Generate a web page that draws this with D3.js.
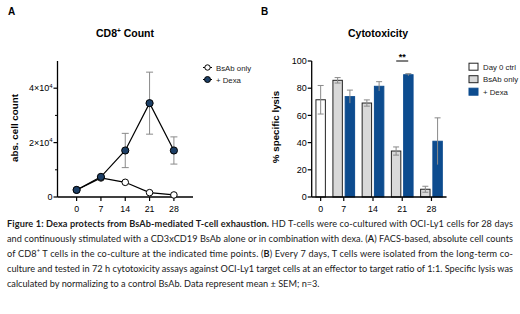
<!DOCTYPE html>
<html><head><meta charset="utf-8">
<script src="https://cdn.jsdelivr.net/npm/d3@7/dist/d3.min.js"></script>
<style>
html,body{margin:0;padding:0;background:#fff;}
</style></head>
<body><svg id="chart" width="520" height="314"></svg>
<script>
// Panel A data
const daysA = [0, 7, 14, 21, 28];
const bsabCount = [2600, 7000, 5400, 1600, 750];
const dexaCount = [2600, 7400, 17100, 34500, 17100];
const dexaCountErr = [0, 0, 6300, 11400, 5000];
const yTicksA = [0, 20000, 40000];
const yMinorA = [10000, 30000];
const legendA = ["BsAb only", "+ Dexa"];

// Panel B data
const daysB = [0, 7, 14, 21, 28];
const day0Ctrl = [71.5];
const day0CtrlErr = [10.5];
const bsabLysis = [85.8, 69.1, 33.8, 5.7];   // days 7..28
const bsabLysisErr = [2.0, 2.3, 3.0, 2.2];
const dexaLysis = [73.8, 81.4, 89.9, 41.0];
const dexaLysisErr = [4.8, 3.4, 0.8, 17.2];
const yTicksB = [0, 20, 40, 60, 80, 100];
const legendB = ["Day 0 ctrl", "BsAb only", "+ Dexa"];

// caption: each line is a list of [text, style] runs (b = bold, s = superscript)
const captionLines = [
  [["Figure 1: Dexa protects from BsAb-mediated T-cell exhaustion.", "b"], [" HD T-cells were co-cultured with OCI-Ly1 cells for 28 days", ""]],
  [["and continuously stimulated with a CD3xCD19 BsAb alone or in combination with dexa. (", ""], ["A", "b"], [") FACS-based, absolute cell counts", ""]],
  [["of CD8", ""], ["+", "s"], [" T cells in the co-culture at the indicated time points. (", ""], ["B", "b"], [") Every 7 days, T cells were isolated from the long-term co-", ""]],
  [["culture and tested in 72 h cytotoxicity assays against OCI-Ly1 target cells at an effector to target ratio of 1:1. Specific lysis was", ""]],
  [["calculated by normalizing to a control BsAb. Data represent mean ± SEM; n=3.", ""]]
];
const captionJustify = [true, true, true, true, false];

const svg = d3.select("#chart");
const F = "'Liberation Sans', Arial, sans-serif";
const navy = "#1d3f66", blue = "#0d4c8f", gray = "#d9d9d9", errC = "#8a8a8a";

// ---------- Panel A ----------
const xA = d3.scaleLinear().domain([-5.5, 33.5]).range([57.5, 193]);
const yA = d3.scaleLinear().domain([0, 50000]).range([197, 61]);
const gA = svg.append("g");
gA.append("text").attr("x", 8).attr("y", 15).text("A").attr("font-family", F).attr("font-weight", "bold").attr("font-size", 10);
const tA = gA.append("text").attr("x", 125).attr("y", 37).attr("text-anchor", "middle").attr("font-family", F).attr("font-weight", "bold").attr("font-size", 10.5);
tA.append("tspan").text("CD8");
tA.append("tspan").text("+").attr("font-size", 6.5).attr("dy", -4);
tA.append("tspan").text(" Count").attr("dy", 4);

gA.append("line").attr("x1", xA.range()[0]).attr("x2", xA.range()[0]).attr("y1", yA(50000)).attr("y2", yA(0)).attr("stroke", "#000").attr("stroke-width", 1.3);
gA.append("line").attr("x1", xA.range()[0]).attr("x2", xA.range()[1]).attr("y1", yA(0)).attr("y2", yA(0)).attr("stroke", "#000").attr("stroke-width", 1.3);
yTicksA.forEach(v => {
  gA.append("line").attr("x1", xA.range()[0] - 4).attr("x2", xA.range()[0]).attr("y1", yA(v)).attr("y2", yA(v)).attr("stroke", "#000").attr("stroke-width", 1.2);
  const t = gA.append("text").attr("x", xA.range()[0] - 5).attr("y", yA(v) + 3.2).attr("text-anchor", "end").attr("font-family", F).attr("font-size", 9);
  if (v === 0) t.text("0");
  else {
    t.append("tspan").text((v / 10000) + "×10");
    t.append("tspan").text("4").attr("font-size", 6).attr("dy", -3.5);
  }
});
yMinorA.forEach(v => {
  gA.append("line").attr("x1", xA.range()[0] - 2.5).attr("x2", xA.range()[0]).attr("y1", yA(v)).attr("y2", yA(v)).attr("stroke", "#000").attr("stroke-width", 1);
});
daysA.forEach(d => {
  gA.append("line").attr("x1", xA(d)).attr("x2", xA(d)).attr("y1", yA(0)).attr("y2", yA(0) + 4).attr("stroke", "#000").attr("stroke-width", 1.2);
  gA.append("text").attr("x", xA(d)).attr("y", 212).attr("text-anchor", "middle").attr("font-family", F).attr("font-size", 8.8).text(d);
});
gA.append("text").attr("transform", `translate(17.5,128) rotate(-90)`).attr("text-anchor", "middle").attr("font-family", F).attr("font-weight", "bold").attr("font-size", 9.8).text("abs. cell count");

daysA.forEach((d, i) => {
  const e = dexaCountErr[i];
  if (!e) return;
  const x = xA(d);
  gA.append("line").attr("x1", x).attr("x2", x).attr("y1", yA(dexaCount[i] + e)).attr("y2", yA(dexaCount[i] - e)).attr("stroke", errC).attr("stroke-width", 1);
  [dexaCount[i] + e, dexaCount[i] - e].forEach(v => gA.append("line").attr("x1", x - 3.5).attr("x2", x + 3.5).attr("y1", yA(v)).attr("y2", yA(v)).attr("stroke", errC).attr("stroke-width", 1));
});
const lineA = d3.line().x((d, i) => xA(daysA[i])).y(d => yA(d));
gA.append("path").attr("d", lineA(bsabCount)).attr("fill", "none").attr("stroke", "#000").attr("stroke-width", 1.2);
gA.append("path").attr("d", lineA(dexaCount)).attr("fill", "none").attr("stroke", "#000").attr("stroke-width", 1.2);
bsabCount.forEach((v, i) => gA.append("circle").attr("cx", xA(daysA[i])).attr("cy", yA(v)).attr("r", 3.3).attr("fill", "#fff").attr("stroke", "#000").attr("stroke-width", 1));
dexaCount.forEach((v, i) => gA.append("circle").attr("cx", xA(daysA[i])).attr("cy", yA(v)).attr("r", 3.6).attr("fill", navy).attr("stroke", "#000").attr("stroke-width", 1));

legendA.forEach((name, i) => {
  const y = 67.5 + i * 12;
  gA.append("line").attr("x1", 203).attr("x2", 212).attr("y1", y).attr("y2", y).attr("stroke", "#000").attr("stroke-width", 1);
  gA.append("circle").attr("cx", 207.5).attr("cy", y).attr("r", i ? 3 : 2.7).attr("fill", i ? navy : "#fff").attr("stroke", "#000").attr("stroke-width", 1);
  gA.append("text").attr("x", 216).attr("y", y + 3).attr("font-family", F).attr("font-size", 7.8).attr("fill", "#222").text(name);
});

// ---------- Panel B ----------
const gB = svg.append("g");
gB.append("text").attr("x", 261).attr("y", 15).text("B").attr("font-family", F).attr("font-weight", "bold").attr("font-size", 10);
gB.append("text").attr("x", 378).attr("y", 37).attr("text-anchor", "middle").attr("font-family", F).attr("font-weight", "bold").attr("font-size", 10.5).text("Cytotoxicity");

const bars = [];
let pos = 0.45;
const BW = 1, IG = 0.3, GG = 0.8;
const groupCenters = [];
daysB.forEach((d, gi) => {
  const start = pos;
  if (gi === 0) {
    bars.push({ s: "ctrl", x: pos, v: day0Ctrl[0], e: day0CtrlErr[0] });
    pos += BW;
  } else {
    bars.push({ s: "bsab", x: pos, v: bsabLysis[gi - 1], e: bsabLysisErr[gi - 1] });
    pos += BW + IG;
    bars.push({ s: "dexa", x: pos, v: dexaLysis[gi - 1], e: dexaLysisErr[gi - 1] });
    pos += BW;
  }
  groupCenters.push((start + pos) / 2);
  pos += GG;
});
const totalU = pos - GG + 0.45;
const xB = d3.scaleLinear().domain([0, totalU]).range([311.7, 311.7 + totalU * 9.43]);
const yB = d3.scaleLinear().domain([0, 100]).range([197, 61]);
const fillOf = { ctrl: "#fff", bsab: gray, dexa: blue };

bars.forEach(b => {
  gB.append("rect").attr("x", xB(b.x)).attr("y", yB(b.v)).attr("width", xB(b.x + BW) - xB(b.x)).attr("height", yB(0) - yB(b.v))
    .attr("fill", fillOf[b.s]).attr("stroke", b.s === "dexa" ? blue : "#222").attr("stroke-width", 1);
});
bars.forEach(b => {
  const cx = xB(b.x + BW / 2);
  gB.append("line").attr("x1", cx).attr("x2", cx).attr("y1", yB(b.v + b.e)).attr("y2", yB(b.v - b.e)).attr("stroke", errC).attr("stroke-width", 1);
  gB.append("line").attr("x1", cx - 3).attr("x2", cx + 3).attr("y1", yB(b.v + b.e)).attr("y2", yB(b.v + b.e)).attr("stroke", errC).attr("stroke-width", 1);
  if (b.s !== "dexa") gB.append("line").attr("x1", cx - 3).attr("x2", cx + 3).attr("y1", yB(b.v - b.e)).attr("y2", yB(b.v - b.e)).attr("stroke", errC).attr("stroke-width", 1);
});

gB.append("line").attr("x1", xB(0)).attr("x2", xB(0)).attr("y1", yB(100)).attr("y2", yB(0)).attr("stroke", "#000").attr("stroke-width", 1.3);
gB.append("line").attr("x1", xB(0)).attr("x2", xB(totalU)).attr("y1", yB(0)).attr("y2", yB(0)).attr("stroke", "#000").attr("stroke-width", 1.3);
yTicksB.forEach(v => {
  gB.append("line").attr("x1", xB(0) - 4).attr("x2", xB(0)).attr("y1", yB(v)).attr("y2", yB(v)).attr("stroke", "#000").attr("stroke-width", 1.2);
  gB.append("text").attr("x", xB(0) - 5).attr("y", yB(v) + 3.2).attr("text-anchor", "end").attr("font-family", F).attr("font-size", 9).text(v);
});
daysB.forEach((d, i) => {
  const x = xB(groupCenters[i]);
  gB.append("line").attr("x1", x).attr("x2", x).attr("y1", yB(0)).attr("y2", yB(0) + 4).attr("stroke", "#000").attr("stroke-width", 1.2);
  gB.append("text").attr("x", x).attr("y", 212).attr("text-anchor", "middle").attr("font-family", F).attr("font-size", 8.8).text(d);
});
gB.append("text").attr("transform", `translate(278.5,127) rotate(-90)`).attr("text-anchor", "middle").attr("font-family", F).attr("font-weight", "bold").attr("font-size", 9.8).text("% specific lysis");

const sigX = xB(groupCenters[3]);
gB.append("line").attr("x1", sigX - 6).attr("x2", sigX + 6).attr("y1", 61).attr("y2", 61).attr("stroke", "#000").attr("stroke-width", 1);
gB.append("text").attr("x", sigX).attr("y", 60).attr("text-anchor", "middle").attr("font-family", F).attr("font-weight", "bold").attr("font-size", 9).text("**");

legendB.forEach((name, i) => {
  const y = 66.7 + i * 12.5;
  gB.append("rect").attr("x", 469).attr("y", y - 3.5).attr("width", 9).attr("height", 7).attr("fill", ["#fff", gray, blue][i]).attr("stroke", i === 2 ? blue : "#222").attr("stroke-width", 1);
  gB.append("text").attr("x", 483).attr("y", y + 3).attr("font-family", F).attr("font-size", 7.8).attr("fill", "#222").text(name);
});

// ---------- Caption ----------
const capW = 506, baseSize = 9.4;
const gC = svg.append("g").attr("font-family", "Lato, 'Open Sans', sans-serif").attr("font-size", baseSize).attr("fill", "#1a1a1a");
const capTexts = captionLines.map((runs, i) => {
  const t = gC.append("text").attr("x", 7).attr("y", 226.5 + i * 15.1);
  let afterSup = false;
  runs.forEach(([txt, st]) => {
    const sp = t.append("tspan").text(txt);
    if (st === "b") sp.attr("font-weight", "bold");
    if (st === "s") { sp.attr("font-size", 5.5).attr("dy", -3.5); afterSup = true; }
    else if (afterSup) { sp.attr("dy", 3.5); afterSup = false; }
  });
  return t;
});
// fit font so the widest justified line fits its width, then justify with extra spacing
let k = 1;
capTexts.forEach((t, i) => { if (captionJustify[i]) k = Math.min(k, capW / t.node().getComputedTextLength()); });
gC.attr("font-size", baseSize * k * 0.995);
capTexts.forEach((t, i) => { if (captionJustify[i]) t.attr("textLength", capW).attr("lengthAdjust", "spacing"); });
</script></body></html>
